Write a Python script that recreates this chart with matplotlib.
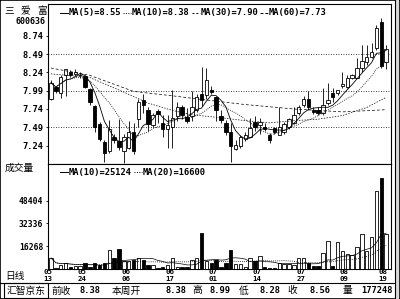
"""Daily candlestick + volume chart for 三爱富 (600636), terminal style."""
import numpy as np
import pandas as pd
import matplotlib
matplotlib.use("Agg")
import matplotlib.pyplot as plt
import matplotlib.transforms as mtransforms
from matplotlib.patches import Rectangle
from matplotlib.lines import Line2D

plt.rcParams['font.family'] = ['DejaVu Sans Mono', 'Noto Sans CJK SC']
CJK = ['Noto Sans CJK SC', 'DejaVu Sans']

# -------------------------------------------------------
# Data.
# -------------------------------------------------------
opens = [7.88, 8.04, 7.96, 8.20, 8.24, 8.22, 8.20, 8.19, 8.01, 7.78,
         7.53, 7.29, 7.16, 7.36, 7.30, 7.17, 7.20, 7.43, 7.60, 7.86,
         7.73, 7.52, 7.71, 7.55, 7.46, 7.49, 7.64, 7.76, 7.63, 7.64,
         7.73, 7.95, 7.93, 8.00, 7.90, 7.65, 7.55, 7.42, 7.19, 7.23,
         7.33, 7.36, 7.56, 7.52, 7.50, 7.39, 7.48, 7.39, 7.43, 7.50,
         7.55, 7.69, 7.80, 7.87, 7.73, 7.72, 7.68, 7.82, 7.96, 7.96,
         8.05, 8.04, 8.17, 8.17, 8.30, 8.38, 8.45, 8.58, 8.93, 8.38]
highs = [8.13, 8.06, 8.21, 8.29, 8.27, 8.28, 8.24, 8.21, 8.03, 7.80,
         7.56, 7.31, 7.59, 7.40, 7.60, 7.40, 7.58, 7.55, 7.87, 7.94,
         7.77, 7.68, 7.74, 7.66, 7.66, 8.00, 7.84, 7.80, 7.75, 7.98,
         7.95, 8.31, 8.30, 8.06, 7.92, 7.73, 7.59, 7.55, 7.31, 7.38,
         7.42, 7.62, 7.64, 7.62, 7.55, 7.41, 7.50, 7.76, 7.56, 7.62,
         7.77, 7.80, 7.92, 7.98, 7.76, 7.76, 8.03, 8.10, 8.03, 8.00,
         8.24, 8.20, 8.22, 8.44, 8.62, 8.62, 8.64, 8.89, 8.99, 8.62]
lows = [7.86, 7.96, 7.89, 7.92, 8.18, 8.19, 8.16, 8.02, 7.80, 7.42,
        7.30, 7.02, 7.14, 7.28, 7.18, 7.00, 7.19, 7.12, 7.50, 7.69,
        7.44, 7.50, 7.55, 7.36, 7.21, 7.21, 7.57, 7.60, 7.55, 7.57,
        7.70, 7.78, 7.88, 7.94, 7.58, 7.55, 7.38, 7.01, 7.18, 7.20,
        7.30, 7.35, 7.44, 7.40, 7.44, 7.28, 7.40, 7.39, 7.40, 7.47,
        7.53, 7.66, 7.76, 7.73, 7.67, 7.66, 7.66, 7.80, 7.84, 7.93,
        8.02, 8.02, 8.15, 8.16, 8.25, 8.34, 8.44, 8.55, 8.30, 8.28]
closes = [8.10, 7.98, 8.18, 8.28, 8.21, 8.25, 8.21, 8.04, 7.84, 7.50,
          7.33, 7.14, 7.46, 7.32, 7.22, 7.35, 7.42, 7.16, 7.84, 7.80,
          7.53, 7.66, 7.67, 7.46, 7.52, 7.62, 7.77, 7.66, 7.57, 7.76,
          7.91, 7.86, 8.14, 7.97, 7.73, 7.59, 7.42, 7.23, 7.25, 7.36,
          7.39, 7.48, 7.49, 7.56, 7.46, 7.32, 7.43, 7.49, 7.53, 7.60,
          7.66, 7.77, 7.87, 7.76, 7.70, 7.69, 7.80, 7.86, 7.91, 8.00,
          8.08, 8.17, 8.21, 8.30, 8.39, 8.45, 8.52, 8.85, 8.33, 8.56]
volumes = [7800, 1000, 2800, 4400, 1500, 1800, 2000, 4400, 1500, 3900,
           2600, 4400, 13500, 8000, 14000, 5700, 5700, 6400, 8000, 6200,
           3000, 2600, 1000, 1200, 2800, 7600, 1500, 1500, 1500, 6200,
           8000, 25800, 6000, 4400, 6200, 1500, 4400, 13300, 3500, 3500,
           1500, 7600, 5700, 9200, 1500, 800, 800, 4400, 3300, 3300,
           2600, 7600, 7600, 4400, 2000, 2000, 11600, 19900, 2400, 19400,
           12800, 10600, 10000, 15600, 24700, 12400, 22300, 55450, 64700, 24700]

# long averages need history before the window: read at a few days
ma30_days = [0, 8, 15, 20, 25, 29, 35, 40, 45, 50, 55, 60, 65, 69]
ma30_vals = [8.22, 8.17, 7.97, 7.82, 7.72, 7.66, 7.62, 7.58, 7.55, 7.58,
             7.60, 7.65, 7.76, 7.90]
ma60_days = [0, 8, 17, 25, 31, 40, 50, 60, 69]
ma60_vals = [8.30, 8.20, 7.98, 7.92, 7.87, 7.80, 7.74, 7.70, 7.73]

price_ticks = [8.74, 8.49, 8.24, 7.99, 7.74, 7.49, 7.24]
price_grid = [8.49, 7.99, 7.49]
vol_ticks = [16268, 32336, 48404]
date_days = [0, 7, 16, 25, 34, 43, 52, 61, 69]
date_months = ["05", "05", "06", "06", "07", "07", "07", "08", "08"]
date_dom = ["13", "24", "06", "17", "01", "14", "27", "09", "19"]

legend_price = ["MA(5)=8.55", "MA(10)=8.38", "MA(30)=7.90", "MA(60)=7.73"]
legend_vol = ["MA(10)=25124", "MA(20)=16600"]
info_labels = ["前收", "本周开", "高", "低", "收", "量"]
info_values = ["8.38", "8.38", "8.99", "8.28", "8.56", "177248"]

df = pd.DataFrame(dict(o=opens, h=highs, l=lows, c=closes, v=volumes))
df["ma5"] = df.c.rolling(5, min_periods=1).mean()
df["ma10"] = df.c.rolling(10, min_periods=1).mean()
df["vma10"] = df.v.rolling(10, min_periods=1).mean()
df["vma20"] = df.v.rolling(20, min_periods=1).mean()
days = np.arange(len(df))

# -------------------------------------------------------
# Plot.
# -------------------------------------------------------
W, H = 400, 299
fig = plt.figure(figsize=(W / 100, H / 100), dpi=100)
fig.patch.set_facecolor("white")

def fx(x):
    return x / W

def fy(y):
    return 1 - y / H

def add_px_axes(x0, y0, x1, y1):
    return fig.add_axes([fx(x0), fy(y1), (x1 - x0) / W, (y1 - y0) / H])

ax = add_px_axes(47.5, 4, 391, 164)
axv = add_px_axes(47.5, 164, 391, 269)
xlim = (-0.72, 70.0)
lw = 0.6
bw = 0.7

# candles
for i, r in df.iterrows():
    up = r.c >= r.o
    ax.vlines(i, r.l, r.h, color="black", lw=lw, zorder=2)
    lo, hi = min(r.o, r.c), max(r.o, r.c)
    ax.add_patch(Rectangle((i - bw / 2, lo), bw, max(hi - lo, 0.008),
                           facecolor="white" if up else "black",
                           edgecolor="black", lw=lw, zorder=3))

ax.plot(days, df.ma5, color="black", lw=0.6, zorder=4)
ax.plot(days, df.ma10, color="black", lw=0.6, ls=(0, (1, 1.5)), zorder=4)
ax.plot(ma30_days, ma30_vals, color="black", lw=0.5, ls=(0, (2, 2)), zorder=4)
ax.plot(ma60_days, ma60_vals, color="black", lw=0.5, ls=(0, (4, 3)), zorder=4)
for g in price_grid:
    ax.axhline(g, color="black", lw=0.6, ls=(0, (1, 2)), zorder=1)

ax.set_xlim(*xlim)
ax.set_ylim(6.987, 9.176)
ax.set_xticks([])
ax.set_yticks(price_ticks)
ax.set_yticklabels([f"{t:.2f}" for t in price_ticks])
ax.tick_params(axis="y", length=1.5, width=0.6, pad=1.5, labelsize=6.3)
for lab in ax.get_yticklabels():
    lab.set_fontweight("bold")

# volume
for i, r in df.iterrows():
    up = r.c >= r.o
    axv.add_patch(Rectangle((i - bw / 2, 0), bw, r.v,
                            facecolor="white" if up else "black",
                            edgecolor="black", lw=lw, zorder=3))
axv.plot(days, df.vma10, color="black", lw=0.5, zorder=4)
axv.plot(days, df.vma20, color="black", lw=0.6, ls=(0, (1, 1.5)), zorder=4)
axv.set_xlim(*xlim)
axv.set_ylim(0, 74300)
axv.set_yticks(vol_ticks)
axv.set_yticklabels([str(t) for t in vol_ticks])
axv.tick_params(axis="y", length=1.5, width=0.6, pad=1.5, labelsize=5.8)
for lab in axv.get_yticklabels():
    lab.set_fontweight("bold")
axv.set_xticks([])

# two-row date labels under the volume panel
trans = mtransforms.blended_transform_factory(axv.transData, fig.transFigure)
for d, m, dd in zip(date_days, date_months, date_dom):
    axv.text(d - 0.6, fy(272.5), m, transform=trans, fontsize=5.3,
             fontweight="bold", ha="center", va="center", clip_on=False)
    axv.text(d - 0.6, fy(278.8), dd, transform=trans, fontsize=5.3,
             fontweight="bold", ha="center", va="center", clip_on=False)

for a in (ax, axv):
    for s in a.spines.values():
        s.set_linewidth(0.8)
    a.set_facecolor("white")

# legends (line sample + text)
def legend_item(x0, y, style, text):
    fig.add_artist(Line2D([fx(x0), fx(x0 + 8)], [fy(y), fy(y)], color="black",
                          lw=0.7, ls=style))
    fig.text(fx(x0 + 9), fy(y), text, fontsize=6.3, fontweight="bold",
             va="center", ha="left")

legend_item(60, 13, "-", legend_price[0])
legend_item(123, 13, (0, (1, 1.5)), legend_price[1])
legend_item(192, 13, (0, (2, 2)), legend_price[2])
legend_item(260, 13, (0, (3, 2)), legend_price[3])
legend_item(60, 172, "-", legend_vol[0])
legend_item(134, 172, (0, (1, 1.5)), legend_vol[1])

# side labels
for cx, ch in zip([9, 26, 42], "三爱富"):
    fig.text(fx(cx), fy(11), ch, family=CJK, fontsize=7, ha="center", va="center")
fig.text(fx(45), fy(22), "600636", fontsize=6.0, fontweight="bold", ha="right", va="center")
fig.text(fx(5), fy(168), "成交量", family=CJK, fontsize=7, ha="left", va="center")
fig.text(fx(5), fy(276), "日线", family=CJK, fontsize=7, ha="left", va="center")

# bottom info bar
fig.add_artist(Line2D([0, fx(394)], [fy(283), fy(283)], color="black", lw=0.8))
fig.add_artist(Rectangle((fx(4), fy(297.5)), fx(44), 14.5 / H, transform=fig.transFigure,
                         fill=False, edgecolor="black", lw=0.8))
fig.text(fx(26), fy(290.5), "汇智京东", family=CJK, fontsize=7, ha="center", va="center")
label_x = [52, 112, 192, 239, 287, 343]
value_x = [101, 187, 231, 281, 331, 393]
for lx, vx, lab, val in zip(label_x, value_x, info_labels, info_values):
    fig.text(fx(lx), fy(290.5), lab, family=CJK, fontsize=7, ha="left", va="center")
    fig.text(fx(vx), fy(290.5), val, fontsize=6.3, fontweight="bold",
             ha="right", va="center")

# window frame
fig.add_artist(Rectangle((0, 0), 1, 1, transform=fig.transFigure, fill=False,
                         edgecolor="black", lw=1.2))
fig.add_artist(Line2D([fx(395), fx(395)], [fy(0), fy(299)], color="black", lw=0.8))
fig.add_artist(Rectangle((fx(395.5), 0), fx(3.5), 1, transform=fig.transFigure,
                         facecolor="#d8d8d8", edgecolor="none"))

fig.savefig("out.png", dpi=100)
